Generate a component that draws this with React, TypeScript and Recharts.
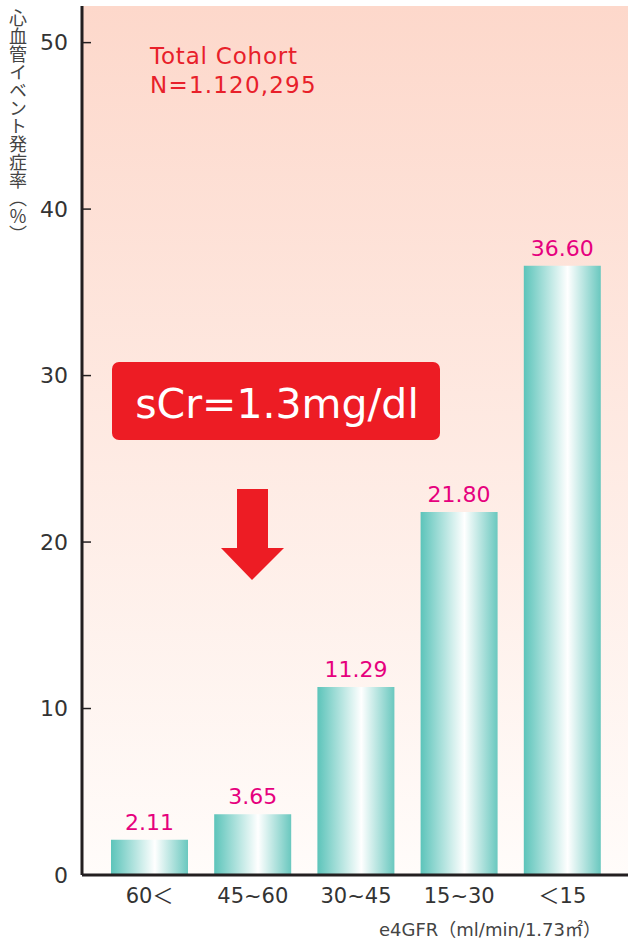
import React from 'react';
import { BarChart, Bar, XAxis, YAxis, CartesianGrid, LabelList, Customized } from 'recharts';

const categories = ['60＜', '45~60', '30~45', '15~30', '＜15'];
const eventRates = [2.11, 3.65, 11.29, 21.8, 36.6];
const yTicks = [0, 10, 20, 30, 40, 50];

const data = categories.map((name, i) => ({ name, rate: eventRates[i] }));

const FONT = '"DejaVu Sans", "Noto Sans CJK JP", sans-serif';
const JP_FONT = '"Noto Sans CJK JP", sans-serif';
const AXIS_X = 82;

const YTick = ({ x, y, payload }: any) => (
  <g>
    <text x={x} y={y} textAnchor="end" dominantBaseline="central" fontSize={22} fill="#333" fontFamily={FONT}>
      {payload.value}
    </text>
    <line x1={AXIS_X} x2={AXIS_X + 9} y1={y} y2={y} stroke="#231F20" strokeWidth={1.5} />
  </g>
);

const XTick = ({ x, y, payload }: any) => (
  <text x={x} y={y} dy="0.8em" textAnchor="middle" fontSize={21} fill="#333" fontFamily={FONT}>
    {payload.value}
  </text>
);

const Annotations = () => (
  <g fontFamily={FONT}>
    <text x={18} y={9} fontSize={18} fill="#444" fontFamily={JP_FONT} style={{ writingMode: 'vertical-rl' as any }}>
      心血管イベント発症率（％）
    </text>
    <text x={150} y={64} fontSize={23} letterSpacing={0.8} fill="#E8202A">Total Cohort</text>
    <text x={150} y={93} fontSize={23} letterSpacing={1.2} fill="#E8202A">N=1.120,295</text>
    <rect x={112} y={362} width={328} height={78} rx={7} fill="#ED1C24" />
    <text x={277} y={418} textAnchor="middle" fontSize={41} fill="#fff">sCr=1.3mg/dl</text>
    <polygon points="237,489 268,489 268,548 284,548 252,580 221,548 237,548" fill="#ED1C24" />
    <text x={601} y={936} textAnchor="end" fontSize={18} fill="#444">e4GFR（ml/min/1.73㎡）</text>
  </g>
);

export default function App() {
  return (
    <div style={{ position: 'absolute', left: 0, top: 0, background: '#fff' }}>
      <BarChart
        width={628}
        height={942}
        data={data}
        margin={{ top: 6, right: 0, bottom: 0, left: 0 }}
      >
        <defs>
          <linearGradient id="bg" x1="0" y1="0" x2="0" y2="1">
            <stop offset="0%" stopColor="#FDD8CB" />
            <stop offset="100%" stopColor="#FFFCFA" />
          </linearGradient>
          <linearGradient id="barFill" x1="0" y1="0" x2="1" y2="0">
            <stop offset="0%" stopColor="#5CC4BA" />
            <stop offset="57%" stopColor="#FFFFFF" />
            <stop offset="100%" stopColor="#6AC8BF" />
          </linearGradient>
        </defs>
        <CartesianGrid horizontal={false} vertical={false} fill="url(#bg)" stroke="none" />
        <XAxis
          dataKey="name"
          height={67}
          padding={{ left: 16, right: 14 }}
          axisLine={{ stroke: '#231F20', strokeWidth: 3 }}
          tickLine={false}
          tickSize={0}
          tickMargin={11}
          tick={<XTick />}
          interval={0}
        />
        <YAxis
          width={AXIS_X}
          domain={[0, 52.2]}
          ticks={yTicks}
          axisLine={{ stroke: '#231F20', strokeWidth: 3 }}
          tickLine={false}
          tickSize={0}
          tickMargin={14}
          tick={<YTick />}
          allowDataOverflow
        />
        <Bar dataKey="rate" barSize={77} fill="url(#barFill)" isAnimationActive={false}>
          <LabelList
            dataKey="rate"
            position="top"
            offset={10}
            formatter={(v: any) => Number(v).toFixed(2)}
            fill="#E6007E"
            fontSize={22}
            fontFamily={FONT}
          />
        </Bar>
        <Customized component={Annotations} />
      </BarChart>
    </div>
  );
}
